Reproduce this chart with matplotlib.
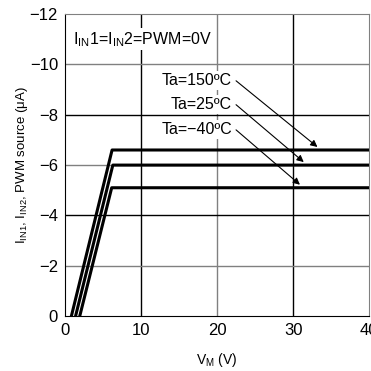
import matplotlib.pyplot as plt
import numpy as np

plt.rcParams['font.family'] = ['Liberation Sans', 'DejaVu Sans']
plt.rcParams['mathtext.fontset'] = 'custom'
plt.rcParams['mathtext.rm'] = 'Liberation Sans'
plt.rcParams['mathtext.it'] = 'Liberation Sans'

# curves: start voltage (I=0), knee voltage, saturation current
temps = ['Ta=150ºC', 'Ta=25ºC', 'Ta=\u221240ºC']
v_start = [0.85, 1.4, 1.95]
v_knee = [6.2, 6.3, 6.15]
i_sat = [-6.6, -6.0, -5.1]
v_end = 40

label_y = [-9.35, -8.4, -7.4]
arrow_tip = [(33.2, -6.72), (31.4, -6.12), (30.9, -5.22)]

xticks = [0, 10, 20, 30, 40]
yticks = [0, -2, -4, -6, -8, -10, -12]

fig = plt.figure(figsize=(3.71, 3.71), dpi=100)
ax = fig.add_axes([0.175, 0.148, 0.82, 0.814])

# grid, alternating gray / black
for x in [10, 20, 30]:
    ax.axvline(x, color='black' if x % 20 else '#808080', lw=1, zorder=1)
for y in [-2, -4, -6, -8, -10]:
    ax.axhline(y, color='black' if y % 4 == 0 else '#808080', lw=1, zorder=1)

for vs, vk, isat in zip(v_start, v_knee, i_sat):
    ax.plot([vs, vk, v_end], [0, isat, isat], color='black', lw=2.2, zorder=3)

ax.text(1.0, -11.0, r'I$_{\mathregular{IN}}$1=I$_{\mathregular{IN}}$2=PWM=0V', fontsize=11.5,
        va='center', ha='left', zorder=4,
        bbox=dict(facecolor='white', edgecolor='none', pad=1))

for t, ly, tip in zip(temps, label_y, arrow_tip):
    ax.text(22.0, ly, t, fontsize=11.5, ha='right', va='center', zorder=4,
            bbox=dict(facecolor='white', edgecolor='none', pad=1.5))
    ax.annotate('', xy=tip, xytext=(22.5, ly), zorder=5,
                arrowprops=dict(arrowstyle='-|>', color='black', lw=0.8,
                                mutation_scale=10, shrinkA=0, shrinkB=0))

ax.set_xlim(0, 40)
ax.set_ylim(0, -12)
ax.set_xticks(xticks)
ax.set_yticks(yticks)
ax.set_yticklabels(['0' if v == 0 else '\u2212%d' % abs(v) for v in yticks])
ax.tick_params(length=0, labelsize=12, pad=5)
for s in ['top', 'right']:
    ax.spines[s].set_color('#808080')
for s in ['left', 'bottom']:
    ax.spines[s].set_color('black')

ax.set_xlabel(r'V$_{\mathregular{M}}$ (V)', fontsize=10, labelpad=9)
ax.set_ylabel(r'I$_{\mathregular{IN1}}$, I$_{\mathregular{IN2}}$, PWM source ($\mathregular{\mu}$A)',
              fontsize=9.5, labelpad=0)

fig.savefig('out.png', dpi=100)
